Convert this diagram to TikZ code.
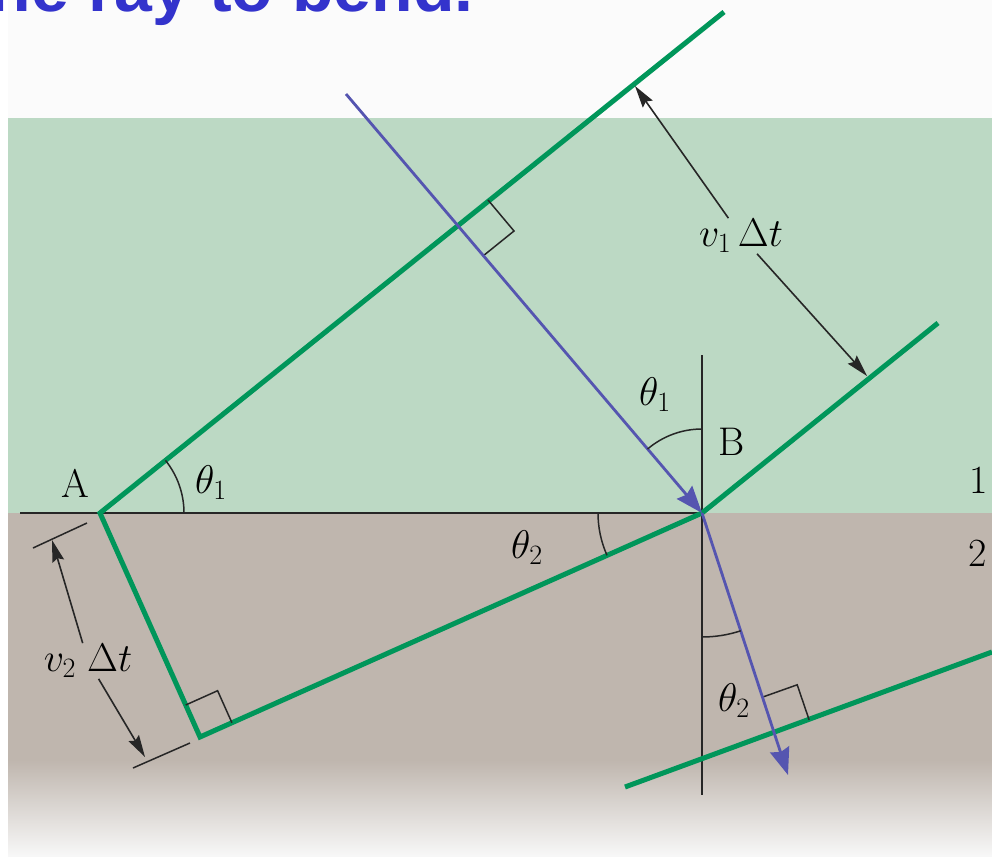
\RequirePackage{fix-cm}
\documentclass[tikz,border=0pt]{standalone}
\usepackage{fontspec}
\newfontfamily\titlefont{Liberation Sans}
\usetikzlibrary{arrows.meta}
\definecolor{wavegreen}{RGB}{0,150,90}
\definecolor{rayblue}{RGB}{85,85,176}
\definecolor{mediumone}{RGB}{188,217,196}
\definecolor{mediumtwo}{RGB}{191,182,174}
\definecolor{headblue}{RGB}{51,51,204}

\begin{document}
\begin{tikzpicture}[x=1pt,y=-1pt,
    wave/.style={wavegreen,line width=5pt,line join=miter},
    ray/.style={rayblue,line width=2.8pt,-{Stealth[length=27pt,width=20pt,inset=3pt]}},
    guide/.style={black!85,line width=1.8pt},
    dimarrow/.style={black!85,line width=1.6pt,-{Stealth[length=22pt,width=12pt,inset=3pt]}},
    sym/.style={inner sep=1pt,font=\fontsize{40}{48}\selectfont}]
    \useasboundingbox (0,0) rectangle (992,858);

    \fill[gray!3] (8,0) rectangle (992,118);
    \fill[mediumone] (8,118) rectangle (992,513);
    \fill[mediumtwo] (8,513) rectangle (992,760);
    \shade[top color=mediumtwo,bottom color=gray!6] (8,760) rectangle (992,856);

    \begin{scope}
        \clip (0,0) rectangle (992,858);
        \node[anchor=base west,inner sep=0pt,text=headblue,
            font=\titlefont\bfseries\fontsize{68}{80}\selectfont]
            (title) at (-33,12) {the ray to bend.};
    \end{scope}

    \coordinate (A) at (100,513);
    \coordinate (B) at (702,513);
    \coordinate (C) at (200,737);
    \coordinate (Atop) at (724,12);
    \coordinate (Btop) at (938,323);
    \coordinate (Wleft) at (625,787);
    \coordinate (Wright) at (992,652);
    \coordinate (Rin) at (346,94);
    \coordinate (Rout) at (788,775);

    \draw[guide] (20,513) -- (B);
    \draw[guide] (702,355) -- (702,795);

    \draw[wave] (Atop) -- (A) -- (C) -- (B) -- (Btop);
    \draw[wave] (Wleft) -- (Wright);

    \draw[guide,line width=1.5pt] (488,200) -- (514,231) -- (483,256);
    \draw[guide,line width=1.5pt] (185.7,705) -- (217.6,690.7) -- (231.9,722.7);
    \draw[guide,line width=1.5pt] (762.3,697.2) -- (797.2,684.8) -- (809.1,719.8);

    \draw[ray] (Rin) -- (B);
    \draw[ray] (B) -- (Rout);

    \draw[guide,line width=1.5pt] (184,513) arc[start angle=0,end angle=-38.8,radius=84];
    \draw[guide,line width=1.5pt] (702,429) arc[start angle=-90,end angle=-130.4,radius=84];
    \draw[guide,line width=1.5pt] (598,513) arc[start angle=180,end angle=156,radius=104];
    \draw[guide,line width=1.5pt] (702,637) arc[start angle=90,end angle=71.8,radius=124];

    \node[sym] (labA) at (75,483) {A};
    \node[sym] (labB) at (732,442) {B};
    \node[sym] (labone) at (979,480) {1};
    \node[sym] (labtwo) at (978,553) {2};
    \node[sym] (thA) at (211,483) {$\theta_1$};
    \node[sym] (thB) at (655,395) {$\theta_1$};
    \node[sym] (thC) at (527,548) {$\theta_2$};
    \node[sym] (thD) at (734,701) {$\theta_2$};
    \node[sym] (vone) at (741,236) {$v_1\,\Delta t$};
    \node[sym] (vtwo) at (88,661) {$v_2\;\Delta t$};

    \coordinate (tipone) at (635,86);
    \coordinate (tiptwo) at (867,376);
    \coordinate (tipthree) at (52,540);
    \coordinate (tipfour) at (145,757);
    \draw[dimarrow] (vone) -- (tipone);
    \draw[dimarrow] (vone) -- (tiptwo);
    \draw[dimarrow] (vtwo) -- (tipthree);
    \draw[dimarrow] (vtwo) -- (tipfour);
    \draw[guide,line width=1.5pt] (33,548) -- (87,523);
    \draw[guide,line width=1.5pt] (133,768) -- (190,743);
\end{tikzpicture}
\end{document}
